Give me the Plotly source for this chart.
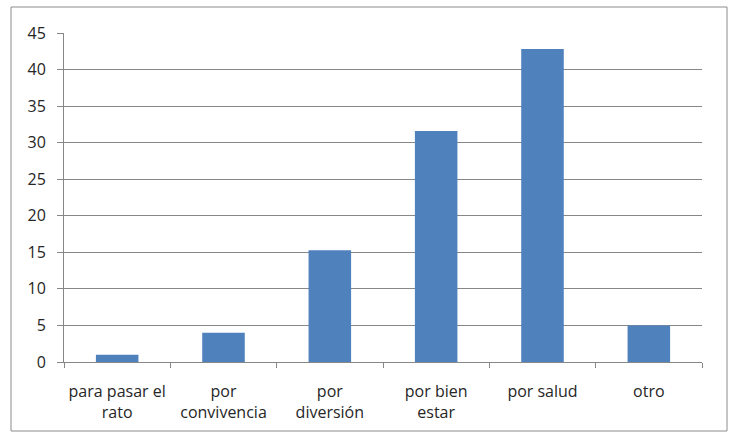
import plotly.graph_objects as go

# Motivos y porcentajes
categorias = ["para pasar el<br>rato", "por<br>convivencia", "por<br>diversión",
              "por bien<br>estar", "por salud", "otro"]
valores = [1, 4, 15.3, 31.6, 42.8, 5]
ticks_y = [0, 5, 10, 15, 20, 25, 30, 35, 40, 45]

W, H = 735, 433
ml, mr, mt, mb = 64, 33, 33, 71
pw, ph = W - ml - mr, H - mt - mb

def px_x(p):
    return (p - ml) / pw

def px_y(p):
    return (H - mb - p) / ph

fig = go.Figure(go.Bar(
    x=categorias, y=valores,
    marker=dict(color="#4F81BD", line=dict(width=0)),
    width=0.4,
))

gris = "#878787"
fig.update_layout(
    width=W, height=H,
    margin=dict(l=ml, r=mr, t=mt, b=mb),
    paper_bgcolor="white", plot_bgcolor="white",
    font=dict(family="Open Sans", size=16, color="#262626"),
    showlegend=False,
    xaxis=dict(
        type="category",
        tickson="boundaries",
        ticks="outside", ticklen=5, tickcolor=gris, tickwidth=1,
        showline=True, linecolor=gris, linewidth=1,
        showgrid=False,
        ticklabelstandoff=15,
        automargin=False,
    ),
    yaxis=dict(
        range=[0, 45],
        tickvals=ticks_y,
        ticks="outside", ticklen=6, tickcolor=gris, tickwidth=1,
        showline=True, linecolor=gris, linewidth=1,
        showgrid=True, gridcolor=gris, gridwidth=1,
        zeroline=False,
        ticklabelstandoff=8,
        automargin=False,
    ),
    shapes=[dict(
        type="rect", xref="paper", yref="paper",
        x0=px_x(11), x1=px_x(727), y0=px_y(431), y1=px_y(7),
        line=dict(color="#8c8c8c", width=1), fillcolor="rgba(0,0,0,0)",
        layer="below",
    )],
)

fig.write_html("out.html")
